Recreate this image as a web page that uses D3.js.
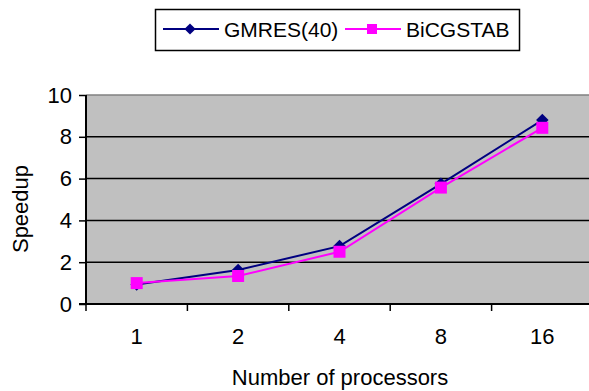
<!DOCTYPE html>
<html>
<head>
<meta charset="utf-8">
<script src="https://cdn.jsdelivr.net/npm/d3@7"></script>
<style>
  body { margin: 0; background: #fff; }
  text { font-family: "Liberation Sans", Arial, sans-serif; fill: #000; }
</style>
</head>
<body>
<div id="chart"></div>
<script>
// data
var processors = ["1", "2", "4", "8", "16"];
var gmres = [0.93, 1.63, 2.77, 5.75, 8.8];
var bicgstab = [1.0, 1.34, 2.5, 5.57, 8.43];
var yTicks = [0, 2, 4, 6, 8, 10];

var svgWidth = 589;
var svgHeight = 391;

// plot area (runs a little past the right edge, like the source)
var plot = { left: 86, top: 95, right: 593, bottom: 304 };
var fontSize = 22;

var svg = d3.select("#chart")
  .append("svg")
  .attr("width", svgWidth)
  .attr("height", svgHeight);

var x = d3.scaleBand()
  .domain(processors)
  .range([plot.left, plot.right]);

var y = d3.scaleLinear()
  .domain([0, 10])
  .range([plot.bottom, plot.top]);

// grey plot background
svg.append("rect")
  .attr("x", plot.left)
  .attr("y", plot.top)
  .attr("width", plot.right - plot.left)
  .attr("height", plot.bottom - plot.top)
  .attr("fill", "#c0c0c0");

// top border
svg.append("line")
  .attr("x1", plot.left).attr("x2", plot.right)
  .attr("y1", plot.top).attr("y2", plot.top)
  .attr("stroke", "#808080")
  .attr("stroke-width", 1.5);

// gridlines
svg.append("g")
  .selectAll("line")
  .data(yTicks.filter(d => d > 0 && d < 10))
  .enter()
  .append("line")
  .attr("x1", plot.left).attr("x2", plot.right)
  .attr("y1", d => y(d)).attr("y2", d => y(d))
  .attr("stroke", "#000")
  .attr("stroke-width", 1.5);

// y axis
var leftAxis = d3.axisLeft(y)
  .tickValues(yTicks)
  .tickSize(7)
  .tickPadding(7);

var yAxis = svg.append("g")
  .attr("transform", `translate(${plot.left}, 0)`)
  .call(leftAxis);
yAxis.select(".domain").remove();
yAxis.selectAll("line").attr("stroke", "#000").attr("stroke-width", 1.5);
yAxis.selectAll("text")
  .attr("font-size", fontSize)
  .attr("font-family", "Liberation Sans, Arial, sans-serif");

svg.append("line")
  .attr("x1", plot.left).attr("x2", plot.left)
  .attr("y1", plot.top).attr("y2", plot.bottom + 1)
  .attr("stroke", "#000")
  .attr("stroke-width", 2);

// x axis: labels in the middle of each band, ticks on the band edges
var bottomAxis = d3.axisBottom(x)
  .tickSize(0)
  .tickPadding(24);

var xAxis = svg.append("g")
  .attr("transform", `translate(0, ${plot.bottom})`)
  .call(bottomAxis);
xAxis.select(".domain").remove();
xAxis.selectAll("text")
  .attr("font-size", fontSize)
  .attr("font-family", "Liberation Sans, Arial, sans-serif");

svg.append("g")
  .selectAll("line")
  .data(processors)
  .enter()
  .append("line")
  .attr("x1", d => x(d)).attr("x2", d => x(d))
  .attr("y1", plot.bottom).attr("y2", plot.bottom + 7)
  .attr("stroke", "#000")
  .attr("stroke-width", 1.5);

svg.append("line")
  .attr("x1", plot.left - 7).attr("x2", plot.right)
  .attr("y1", plot.bottom).attr("y2", plot.bottom)
  .attr("stroke", "#000")
  .attr("stroke-width", 2);

// series
var line = d3.line()
  .x((d, i) => x(processors[i]) + x.bandwidth() / 2)
  .y(d => y(d));

var diamond = d3.symbol().type(d3.symbolDiamond2).size(100);
var square = d3.symbol().type(d3.symbolSquare).size(144);

function drawSeries(values, color, symbol) {
  svg.append("path")
    .datum(values)
    .attr("d", line)
    .attr("fill", "none")
    .attr("stroke", color)
    .attr("stroke-width", 2);

  svg.append("g")
    .selectAll("path")
    .data(values)
    .enter()
    .append("path")
    .attr("d", symbol)
    .attr("transform", (d, i) => `translate(${x(processors[i]) + x.bandwidth() / 2}, ${y(d)})`)
    .attr("fill", color);
}

drawSeries(gmres, "#000080", diamond);
drawSeries(bicgstab, "#ff00ff", square);

// axis titles
svg.append("text")
  .attr("transform", "translate(28, 209) rotate(-90)")
  .attr("text-anchor", "middle")
  .attr("font-size", fontSize)
  .text("Speedup");

svg.append("text")
  .attr("x", 340)
  .attr("y", 385)
  .attr("text-anchor", "middle")
  .attr("font-size", fontSize)
  .text("Number of processors");

// legend
var legend = svg.append("g");
legend.append("rect")
  .attr("x", 155.5).attr("y", 9.5)
  .attr("width", 364).attr("height", 41)
  .attr("fill", "#fff")
  .attr("stroke", "#000")
  .attr("stroke-width", 1.5);

var legendItems = [
  { name: "GMRES(40)", color: "#000080", symbol: d3.symbol().type(d3.symbolDiamond2).size(80), x0: 163 },
  { name: "BiCGSTAB", color: "#ff00ff", symbol: d3.symbol().type(d3.symbolSquare).size(100), x0: 345 }
];

legendItems.forEach(function(item) {
  legend.append("line")
    .attr("x1", item.x0).attr("x2", item.x0 + 56)
    .attr("y1", 29).attr("y2", 29)
    .attr("stroke", item.color)
    .attr("stroke-width", 2);
  legend.append("path")
    .attr("d", item.symbol)
    .attr("transform", `translate(${item.x0 + 27}, 29)`)
    .attr("fill", item.color);
  legend.append("text")
    .attr("x", item.x0 + 61)
    .attr("y", 37)
    .attr("font-size", 21)
    .text(item.name);
});
</script>
</body>
</html>
